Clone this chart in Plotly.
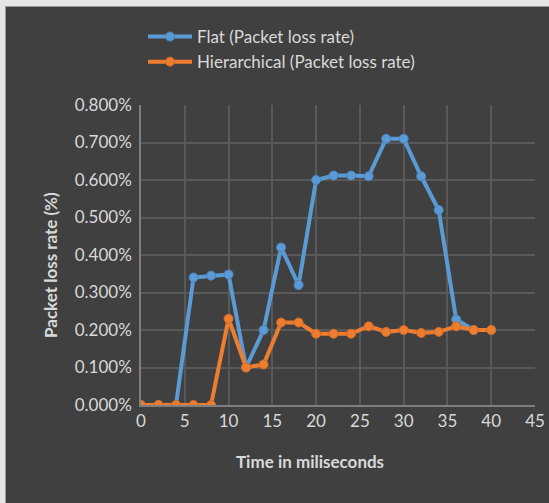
import plotly.graph_objects as go

# Sample times (ms) and packet loss rates (%)
time_ms = [0, 2, 4, 6, 8, 10, 12, 14, 16, 18, 20, 22, 24, 26, 28, 30, 32, 34, 36, 38, 40]
flat_loss = [0, 0, 0, 0.34, 0.345, 0.348, 0.10, 0.20, 0.42, 0.32, 0.60, 0.612, 0.612, 0.61,
             0.71, 0.71, 0.61, 0.52, 0.228, 0.20, 0.20]
hier_loss = [0, 0, 0, 0, 0, 0.23, 0.10, 0.108, 0.22, 0.22, 0.19, 0.19, 0.19, 0.21,
             0.195, 0.20, 0.192, 0.195, 0.21, 0.20, 0.20]

series_names = ["Flat (Packet loss rate)", "Hierarchical (Packet loss rate)"]
y_ticks = [0, 0.1, 0.2, 0.3, 0.4, 0.5, 0.6, 0.7, 0.8]
y_tick_labels = [f"{v:.3f}%" for v in y_ticks]
x_ticks = [0, 5, 10, 15, 20, 25, 30, 35, 40, 45]

BG = "#404040"
TXT = "#d9d9d9"
GRID = "#595959"
FONT = "Lato, 'Open Sans', sans-serif"

W, H = 549, 503
L, R, T, B = 141, 14, 105, 98
pw, ph = W - L - R, H - T - B


def px(x):
    return (x - L) / pw


def py(y):
    return (H - B - y) / ph


fig = go.Figure()
fig.add_trace(go.Scatter(
    x=time_ms, y=flat_loss, name=series_names[0], mode="lines+markers",
    line=dict(color="#5B9BD5", width=4),
    marker=dict(symbol="circle", size=9, color="#5B9BD5", line=dict(color="#4a86bd", width=1)),
))
fig.add_trace(go.Scatter(
    x=time_ms, y=hier_loss, name=series_names[1], mode="lines+markers",
    line=dict(color="#ED7D31", width=4),
    marker=dict(symbol="circle", size=9, color="#ED7D31", line=dict(color="#d46a22", width=1)),
))

fig.update_layout(
    width=W, height=H,
    margin=dict(l=L, r=R, t=T, b=B),
    paper_bgcolor=BG, plot_bgcolor=BG,
    font=dict(family=FONT, color=TXT, size=17),
    showlegend=True,
    legend=dict(
        x=px(143), y=py(19), xanchor="left", yanchor="top",
        bgcolor="rgba(0,0,0,0)", font=dict(size=17, color=TXT),
        tracegroupgap=0, itemwidth=44,
    ),
    xaxis=dict(
        range=[0, 45], tickvals=x_ticks, showgrid=True, gridcolor=GRID, gridwidth=1.5,
        zeroline=False, showline=True, linecolor="#7f7f7f", linewidth=1.5,
        ticks="", tickfont=dict(size=17, color=TXT), automargin=False,
    ),
    yaxis=dict(
        range=[0, 0.8], tickvals=y_ticks, ticktext=y_tick_labels,
        showgrid=True, gridcolor=GRID, gridwidth=1.5,
        zeroline=False, showline=True, linecolor="#7f7f7f", linewidth=1.5,
        ticks="", tickfont=dict(size=17, color=TXT), ticklabelstandoff=4, automargin=False,
    ),
    shapes=[
        # light frame strips along the top and left edges
        dict(type="rect", xref="paper", yref="paper", x0=px(0), x1=px(W), y0=py(6), y1=py(0),
             fillcolor="#e6e6e6", line=dict(width=0), layer="below"),
        dict(type="rect", xref="paper", yref="paper", x0=px(0), x1=px(5), y0=py(H), y1=py(0),
             fillcolor="#e6e6e6", line=dict(width=0), layer="below"),
        dict(type="line", xref="paper", yref="paper", x0=px(5), x1=px(W), y0=py(6.5), y1=py(6.5),
             line=dict(color="#9a9a9a", width=1)),
        dict(type="line", xref="paper", yref="paper", x0=px(5.5), x1=px(5.5), y0=py(H), y1=py(6.5),
             line=dict(color="#9a9a9a", width=1)),
    ],
    annotations=[
        dict(text="<b>Time in miliseconds</b>", xref="paper", yref="paper",
             x=px(310), y=py(461), xanchor="center", yanchor="middle",
             showarrow=False, font=dict(size=17, color=TXT)),
        dict(text="<b>Packet loss rate (%)</b>", xref="paper", yref="paper",
             x=px(50), y=py(265), xanchor="center", yanchor="middle", textangle=-90,
             showarrow=False, font=dict(size=17, color=TXT)),
    ],
)

fig.write_html("out.html")
